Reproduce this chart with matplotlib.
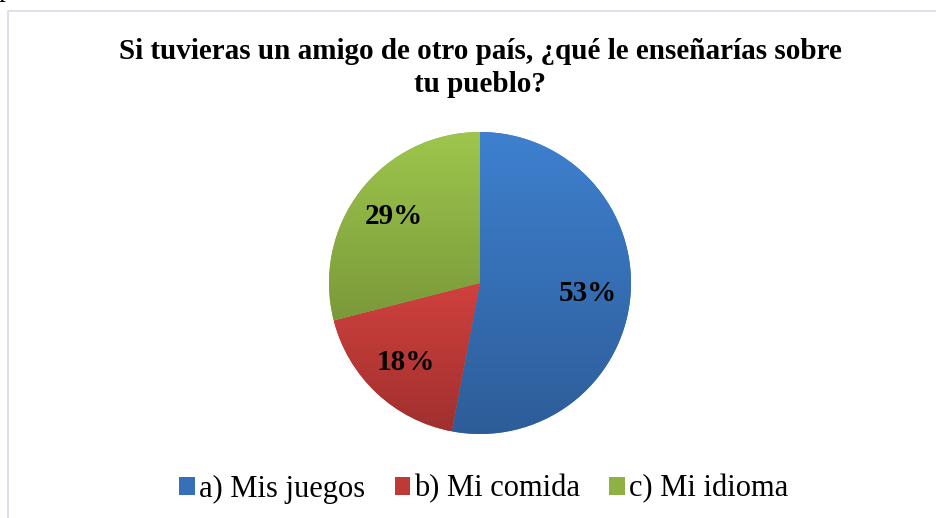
import numpy as np
import matplotlib.pyplot as plt
from matplotlib.colors import LinearSegmentedColormap
from matplotlib.patches import Patch, Rectangle

title = 'Si tuvieras un amigo de otro país, ¿qué le enseñarías sobre\ntu pueblo?'
labels = ['a) Mis juegos', 'b) Mi comida', 'c) Mi idioma']
values = [53, 18, 29]
# top and bottom colour of each slice gradient
top_colors = ['#3E80CF', '#D0413E', '#9EC64C']
bottom_colors = ['#2D5D99', '#A0302E', '#7A993A']
mid_colors = ['#3670B8', '#BD3A37', '#8DB143']

W, H = 936, 518
plt.rcParams['font.family'] = ['Liberation Serif', 'DejaVu Serif']

fig = plt.figure(figsize=(W / 100, H / 100), dpi=100)

# light chart border
fig.patches.append(Rectangle((8 / W, -0.1), 1.2, (H - 11) / H + 0.1,
                             transform=fig.transFigure, fill=False,
                             edgecolor='#D5DDEA', linewidth=1.2))
fig.text(1 / W, 1 + 4 / H, 'p', fontsize=20, style='italic',
         ha='left', va='baseline')

# pie axes: centre (480, 283), radius 151 px
cx, cy, r = 480, 283, 151
ax = fig.add_axes([(cx - r) / W, (H - cy - r) / H, 2 * r / W, 2 * r / H])
ax.set_aspect('equal')
ax.axis('off')

wedges, texts, autotexts = ax.pie(
    values, startangle=90, counterclock=False, autopct='%1.0f%%',
    pctdistance=0.72, colors=mid_colors, radius=1,
    wedgeprops=dict(linewidth=0),
    textprops=dict(fontsize=21, fontweight='bold', color='black'))

for w, c0, c1 in zip(wedges, top_colors, bottom_colors):
    bb = w.get_path().get_extents(w.get_patch_transform())
    cmap = LinearSegmentedColormap.from_list('g', [c1, c0])
    grad = np.linspace(0, 1, 256).reshape(-1, 1)
    im = ax.imshow(grad, cmap=cmap, origin='lower', aspect='auto',
                   extent=[bb.x0, bb.x1, bb.y0, bb.y1], zorder=w.get_zorder() + 0.1)
    im.set_clip_path(w)
for t in autotexts:
    t.set_zorder(5)
ax.set_xlim(-1, 1)
ax.set_ylim(-1, 1)

fig.text(480 / W, 1 - 68 / H, title, ha='center', va='center',
         fontsize=21, fontweight='bold', linespacing=1.3)

handles = [Patch(facecolor=c) for c in mid_colors]
fig.legend(handles, labels, loc='center', bbox_to_anchor=(484 / W, 1 - 489 / H),
           ncol=3, frameon=False, fontsize=22, handlelength=0.5, handleheight=0.5,
           handletextpad=0.15, columnspacing=0.95)

fig.savefig('out.png', dpi=100)
